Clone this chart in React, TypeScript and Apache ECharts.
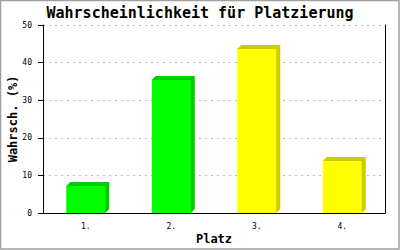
import React, { useEffect, useRef } from "react";
import * as echarts from "echarts";

const categories = ["1.", "2.", "3.", "4."];
const values = [7.2, 35.4, 43.6, 13.8];
const frontColors = ["#00ff00", "#00ff00", "#ffff00", "#ffff00"];
const sideColors = ["#00cc00", "#00cc00", "#cccc00", "#cccc00"];
const yTicks = { min: 0, max: 50, interval: 10 };

const MONO = "DejaVu Sans Mono";

export default function App() {
  const ref = useRef<HTMLDivElement>(null);
  useEffect(() => {
    document.body.style.margin = "0";
    const chart = echarts.init(ref.current!, undefined, { renderer: "svg" });
    const depth = 4;
    chart.setOption({
      animation: false,
      backgroundColor: "#ffffff",
      title: {
        text: "Wahrscheinlichkeit für Platzierung",
        left: "center",
        top: 5,
        padding: 0,
        textStyle: { fontFamily: MONO, fontWeight: "bold", fontSize: 15, color: "#000" },
      },
      grid: { left: 43, right: 15, top: 25, bottom: 37, containLabel: false, outerBoundsMode: "none" },
      xAxis: {
        type: "category",
        data: categories,
        name: "Platz",
        nameLocation: "middle",
        nameGap: 20,
        nameMoveOverlap: false,
        nameTextStyle: { fontFamily: MONO, fontWeight: "bold", fontSize: 12, color: "#000" },
        axisLine: { lineStyle: { color: "#000", width: 1 } },
        axisTick: { show: false },
        axisLabel: { fontFamily: MONO, fontSize: 8, color: "#000", margin: 9 },
        splitLine: { show: false },
        z: 10,
      },
      yAxis: [
        {
          type: "value",
          min: yTicks.min,
          max: yTicks.max,
          interval: yTicks.interval,
          name: "Wahrsch. (%)",
          nameLocation: "middle",
          nameRotate: 90,
          nameGap: 24,
          nameMoveOverlap: false,
          nameTextStyle: { fontFamily: MONO, fontWeight: "bold", fontSize: 12, color: "#000" },
          axisLine: { show: true, lineStyle: { color: "#000", width: 1 } },
          axisTick: { show: true, length: 5, inside: false, lineStyle: { color: "#000" } },
          axisLabel: { fontFamily: MONO, fontSize: 8, color: "#000", margin: 11 },
          splitLine: { show: true, lineStyle: { color: "#bbbbbb", type: [2, 4], width: 1 } },
        },
        {
          type: "value",
          min: yTicks.min,
          max: yTicks.max,
          interval: yTicks.interval,
          position: "right",
          axisLine: { show: true, lineStyle: { color: "#000", width: 1 } },
          axisTick: { show: false },
          axisLabel: { show: false },
          splitLine: { show: false },
        },
      ],
      graphic: [
        {
          type: "rect",
          shape: { x: 0.5, y: 0.5, width: 398.5, height: 248.5 },
          style: { fill: "none", stroke: "#a0a0a0", lineWidth: 1.5 },
          silent: true,
        },
      ],
      series: [
        {
          type: "custom",
          data: values.map((v, i) => [i, v]),
          renderItem: (params: any, api: any) => {
            const idx = api.value(0);
            const val = api.value(1);
            const top = api.coord([idx, val]);
            const base = api.coord([idx, 0]);
            const bw = api.size([1, 0])[0] * 0.456;
            const x0 = top[0] - bw / 2;
            const x1 = top[0] + bw / 2;
            const yT = top[1];
            const yB = base[1];
            const dark = sideColors[params.dataIndex];
            const front = frontColors[params.dataIndex];
            return {
              type: "group",
              children: [
                {
                  type: "polygon",
                  shape: {
                    points: [
                      [x0, yT],
                      [x0 + depth, yT - depth],
                      [x1 + depth, yT - depth],
                      [x1 + depth, yB - depth],
                      [x1, yB],
                    ],
                  },
                  style: { fill: dark },
                },
                {
                  type: "rect",
                  shape: { x: x0, y: yT, width: bw, height: yB - yT },
                  style: { fill: front },
                },
              ],
            };
          },
        },
      ],
    });
    return () => chart.dispose();
  }, []);
  return <div ref={ref} style={{ width: 400, height: 250 }} />;
}
